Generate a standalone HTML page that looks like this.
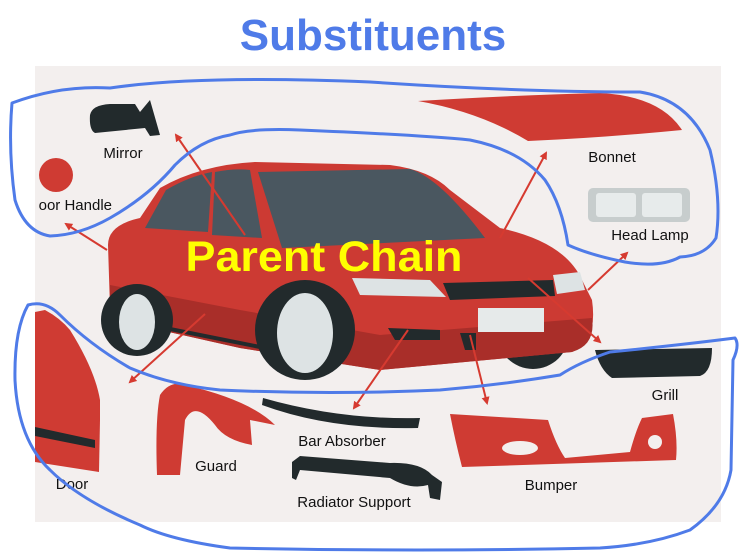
<!DOCTYPE html>
<html><head><style>
html,body{margin:0;padding:0;background:#fff;width:741px;height:559px;overflow:hidden}
svg text{font-family:"Liberation Sans",sans-serif}
</style></head><body>
<svg width="741" height="559" viewBox="0 0 741 559" xmlns="http://www.w3.org/2000/svg">
<defs><marker id="a" markerWidth="8" markerHeight="8" refX="6" refY="4" orient="auto" markerUnits="userSpaceOnUse"><path d="M0,0 L8,4 L0,8 Z" fill="#d63a30"/></marker></defs>
<rect x="35" y="66" width="686" height="456" fill="#f3efee"/>
<text x="373" y="50" text-anchor="middle" font-size="44" font-weight="bold" fill="#4f7be8">Substituents</text>

<!-- parts top -->
<path d="M90,115 Q92,105 110,104 L135,104 L140,112 L150,100 L160,135 L150,136 L145,128 L95,133 Q89,130 90,115 Z" fill="#222a2c"/>
<text x="123" y="158" text-anchor="middle" font-size="15" fill="#111">Mirror</text>
<circle cx="56" cy="175" r="17" fill="#cf3b33"/>
<text x="112" y="210" text-anchor="end" font-size="15" fill="#111">oor Handle</text>
<path d="M418,101 Q520,95 600,93 Q660,96 682,130 Q600,138 528,141 Q480,112 418,101 Z" fill="#cf3b33"/>
<text x="612" y="162" text-anchor="middle" font-size="15" fill="#111">Bonnet</text>
<rect x="588" y="188" width="102" height="34" rx="5" fill="#c7cdcd"/>
<rect x="596" y="193" width="40" height="24" rx="3" fill="#e7ebeb"/><rect x="642" y="193" width="40" height="24" rx="3" fill="#e7ebeb"/>
<text x="650" y="240" text-anchor="middle" font-size="15" fill="#111">Head Lamp</text>

<!-- bottom parts -->
<path d="M595,350 L712,348 Q712,372 700,376 L612,378 Q600,370 595,350 Z" fill="#222a2c"/>
<text x="665" y="400" text-anchor="middle" font-size="15" fill="#111">Grill</text>
<path d="M450,414 L548,420 Q556,445 565,458 L630,452 Q636,430 642,418 L673,414 Q678,440 676,460 L462,467 Q455,440 450,414 Z" fill="#cf3b33"/>
<ellipse cx="520" cy="448" rx="18" ry="7" fill="#f3efee"/><ellipse cx="655" cy="442" rx="7" ry="7" fill="#f3efee"/>
<text x="551" y="490" text-anchor="middle" font-size="15" fill="#111">Bumper</text>
<path d="M263,398 Q340,420 420,418 L418,428 Q330,430 262,405 Z" fill="#222a2c"/>
<text x="342" y="446" text-anchor="middle" font-size="15" fill="#111">Bar Absorber</text>
<path d="M292,462 L300,456 L390,463 Q420,462 432,475 L442,482 L440,500 L430,498 L428,485 Q410,490 390,478 L300,470 L296,480 L292,478 Z" fill="#222a2c"/>
<text x="354" y="507" text-anchor="middle" font-size="15" fill="#111">Radiator Support</text>
<path d="M160,395 Q170,380 185,385 Q250,400 275,425 L250,420 L252,445 Q225,440 215,425 Q195,400 185,420 L180,475 L157,475 Q155,420 160,395 Z" fill="#cf3b33"/>
<text x="216" y="471" text-anchor="middle" font-size="15" fill="#111">Guard</text>
<path d="M35,312 L45,310 Q60,318 70,330 Q95,370 100,400 L100,420 L99,472 L35,462 Z" fill="#cf3b33"/>
<path d="M35,427 L95,440 L95,448 L35,436 Z" fill="#222a2c"/>
<text x="72" y="489" text-anchor="middle" font-size="15" fill="#111">Door</text>

<!-- car -->
<circle cx="533" cy="333" r="36" fill="#222a2c"/>
<path d="M108,245 Q108,225 140,218 L160,188 Q200,165 255,162 L390,165 Q430,170 450,190 L500,228 Q565,242 582,280 L592,300 Q598,342 572,352 L380,370 L240,348 L160,330 L110,308 Z" fill="#cc3a33"/>
<path d="M110,285 L240,310 L380,335 L592,318 Q596,345 572,352 L380,370 L240,348 L160,330 L110,308 Z" fill="#a92e29"/>
<path d="M145,228 L166,190 Q190,176 212,172 L208,232 Z" fill="#4a5760"/>
<path d="M215,172 Q235,168 250,170 L262,238 L212,235 Z" fill="#4a5760"/>
<path d="M258,172 L410,169 Q440,178 485,238 L282,248 Z" fill="#4a5760"/>
<path d="M150,325 L265,348" stroke="#222a2c" stroke-width="4"/>
<circle cx="137" cy="320" r="36" fill="#222a2c"/><ellipse cx="137" cy="322" rx="18" ry="28" fill="#dde3e4"/>
<circle cx="305" cy="330" r="50" fill="#222a2c"/><ellipse cx="305" cy="333" rx="28" ry="40" fill="#dde3e4"/>
<path d="M352,278 L430,280 L446,297 L360,295 Z" fill="#dde3e4"/>
<path d="M553,275 L580,272 L585,290 L557,294 Z" fill="#dde3e4"/>
<path d="M443,283 L553,280 L555,296 L450,300 Z" fill="#222a2c"/>
<rect x="478" y="308" width="66" height="24" fill="#e6eaea"/>
<path d="M388,328 L440,330 L440,340 L395,340 Z" fill="#222a2c"/>
<path d="M460,333 L476,333 L476,350 L465,350 Z" fill="#222a2c"/>

<text x="324" y="271" text-anchor="middle" font-size="43" font-weight="bold" fill="#ffff00" textLength="277" lengthAdjust="spacingAndGlyphs">Parent Chain</text>

<!-- arrows -->
<g stroke="#d63a30" stroke-width="2" fill="none" marker-end="url(#a)">
<line x1="245" y1="235" x2="176" y2="135"/>
<line x1="107" y1="250" x2="66" y2="224"/>
<line x1="500" y1="238" x2="546" y2="153"/>
<line x1="588" y1="290" x2="627" y2="253"/>
<line x1="528" y1="278" x2="600" y2="342"/>
<line x1="470" y1="335" x2="487" y2="403"/>
<line x1="408" y1="330" x2="354" y2="408"/>
<line x1="205" y1="314" x2="130" y2="382"/>
</g>

<!-- blue loops -->
<g stroke="#4f7be8" stroke-width="3" fill="none" stroke-linejoin="round">
<path d="M12,103 Q60,85 110,88 Q200,75 370,82 Q520,92 640,92 Q690,100 710,150 Q722,200 716,238 Q705,256 680,257 Q660,268 625,262 Q590,255 568,245 Q562,205 545,180 Q520,150 470,140 Q420,135 300,130 Q250,128 230,135 Q200,140 175,165 Q150,195 110,218 Q80,235 50,236 Q25,232 15,200 Q8,150 12,103 Z"/>
<path d="M28,305 Q45,300 60,315 Q90,345 130,368 Q170,385 220,390 Q330,395 440,390 Q500,385 560,375 Q580,362 610,352 Q680,345 735,338 Q740,345 733,360 Q732,420 731,470 Q725,505 690,530 Q650,545 600,548 Q420,552 230,548 Q170,540 140,525 Q80,500 50,470 Q18,440 15,380 Q14,330 28,305 Z"/>
</g>
</svg>
</body></html>
